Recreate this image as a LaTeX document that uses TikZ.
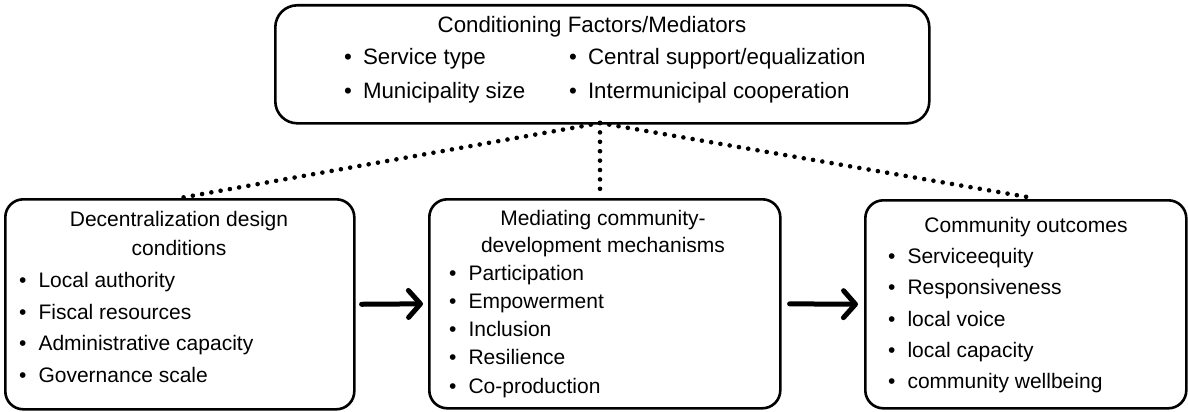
\documentclass[tikz,border=0pt]{standalone}
\usepackage{fontspec}
\setmainfont{Liberation Sans}
\usetikzlibrary{arrows.meta}
\begin{document}
\begin{tikzpicture}[x=1pt,y=-1pt,
  box/.style={draw, line width=2.6pt, rounded corners=18pt, inner sep=0pt, anchor=north west},
  lbl/.style={anchor=base west, inner sep=0pt, font=\fontsize{21}{25}\selectfont},
  head/.style={anchor=base, inner sep=0pt, font=\fontsize{21}{25}\selectfont},
  big/.style={font=\fontsize{22.3}{26}\selectfont},
  dots/.style={line width=4.6pt, line cap=round, dash pattern=on 0pt off 9.4pt},
  flow/.style={line width=5pt, line cap=round,
    -{Straight Barb[length=12pt,width=27pt,round]}}]
\useasboundingbox (0,0) rectangle (1188,412);

% boxes
\node[box, rounded corners=22pt, minimum width=654pt, minimum height=118pt] (top) at (274,4) {};
\node[box, minimum width=349pt, minimum height=210pt] (left) at (4,198) {};
\node[box, minimum width=351pt, minimum height=209pt] (mid) at (428,198) {};
\node[box, minimum width=321pt, minimum height=208pt] (right) at (864,199) {};

% conditioning factors
\node[head, big] (tt) at (592,33) {Conditioning Factors/Mediators};
\node[lbl, big] (tb1) at (344,65) {\textbullet\hspace{11pt}Service type};
\node[lbl, big] (tb2) at (344,98) {\textbullet\hspace{11pt}Municipality size};
\node[lbl, big] (tb3) at (569,65) {\textbullet\hspace{11pt}Central support/equalization};
\node[lbl, big] (tb4) at (569,98) {\textbullet\hspace{11pt}Intermunicipal cooperation};

% design conditions
\node[head] (lt1) at (179,226) {Decentralization design};
\node[head] (lt2) at (179,255) {conditions};
\node[lbl] (lb1) at (19,287) {\textbullet\hspace{12pt}Local authority};
\node[lbl] (lb2) at (19,319) {\textbullet\hspace{12pt}Fiscal resources};
\node[lbl] (lb3) at (19,350.5) {\textbullet\hspace{12pt}Administrative capacity};
\node[lbl] (lb4) at (19,382) {\textbullet\hspace{12pt}Governance scale};

% mechanisms
\node[head] (mt1) at (603,225) {Mediating community-};
\node[head] (mt2) at (603,252) {development mechanisms};
\node[lbl] (mb1) at (449,280) {\textbullet\hspace{12pt}Participation};
\node[lbl] (mb2) at (449,308.3) {\textbullet\hspace{12pt}Empowerment};
\node[lbl] (mb3) at (449,336.6) {\textbullet\hspace{12pt}Inclusion};
\node[lbl] (mb4) at (449,364.9) {\textbullet\hspace{12pt}Resilience};
\node[lbl] (mb5) at (449,393.2) {\textbullet\hspace{12pt}Co-production};

% outcomes
\node[head] (rt) at (1026,232) {Community outcomes};
\node[lbl] (rb1) at (888,263) {\textbullet\hspace{12pt}Serviceequity};
\node[lbl] (rb2) at (888,294.5) {\textbullet\hspace{12pt}Responsiveness};
\node[lbl] (rb3) at (888,326) {\textbullet\hspace{12pt}local voice};
\node[lbl] (rb4) at (888,357) {\textbullet\hspace{12pt}local capacity};
\node[lbl] (rb5) at (888,388) {\textbullet\hspace{12pt}community wellbeing};

% dotted links from the mediators box
\coordinate (apex) at (600,123);
\coordinate (rtop) at (1033,198);
\draw[dots] (apex) -- (left.north);
\draw[dots] (apex) -- (apex |- mid.north);
\draw[dots] (apex) -- (rtop);

% main flow
\draw[flow, shorten <=6pt, shorten >=5pt] (left.east) -- (mid.west);
\draw[flow, shorten <=8pt, shorten >=6pt] (mid.east) -- (right.west);
\end{tikzpicture}
\end{document}
